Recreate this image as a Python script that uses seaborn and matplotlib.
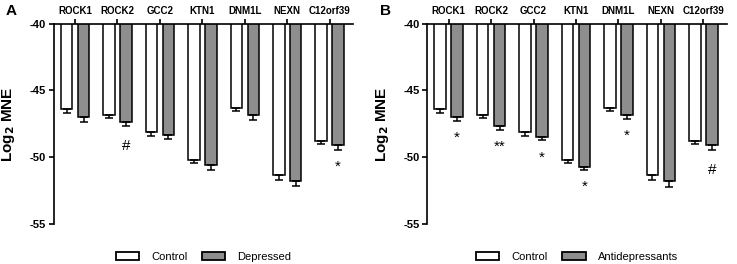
import numpy as np
import pandas as pd
import matplotlib
matplotlib.use("Agg")
import matplotlib.pyplot as plt
from matplotlib.patches import Patch
import seaborn as sns

genes = ["ROCK1", "ROCK2", "GCC2", "KTN1", "DNM1L", "NEXN", "C12orf39"]

# panel A
control_a = [-46.4, -46.85, -48.15, -50.2, -46.3, -51.35, -48.8]
control_a_err = [0.3, 0.2, 0.25, 0.25, 0.25, 0.35, 0.25]
depressed = [-47.0, -47.4, -48.35, -50.6, -46.85, -51.75, -49.1]
depressed_err = [0.4, 0.3, 0.3, 0.35, 0.35, 0.4, 0.35]
marks_a = ["", "#", "", "", "", "", "*"]

# panel B
control_b = [-46.4, -46.85, -48.15, -50.2, -46.3, -51.35, -48.8]
control_b_err = [0.3, 0.2, 0.25, 0.25, 0.25, 0.35, 0.25]
antidep = [-47.0, -47.65, -48.5, -50.7, -46.85, -51.8, -49.1]
antidep_err = [0.3, 0.3, 0.25, 0.25, 0.3, 0.4, 0.35]
marks_b = ["*", "**", "*", "*", "*", "", "#"]

sns.set_style("ticks")
plt.rcParams["font.family"] = ["Liberation Sans", "DejaVu Sans"]
plt.rcParams["mathtext.default"] = "regular"
plt.rcParams["axes.unicode_minus"] = False
for k in ["text.color", "axes.labelcolor", "xtick.color", "ytick.color", "axes.edgecolor"]:
    plt.rcParams[k] = "black"

GRAY = "#8e8e8e"


def panel(ax, ctrl, ctrl_err, trt, trt_err, trt_name, marks, letter):
    df = pd.DataFrame({
        "gene": genes * 2,
        "value": ctrl + trt,
        "group": ["Control"] * len(genes) + [trt_name] * len(genes),
    })
    sns.barplot(data=df, x="gene", y="value", hue="group", ax=ax,
                palette=["white", GRAY], edgecolor="black", linewidth=1.1,
                width=0.8, gap=0.32, errorbar=None, legend=False)
    for cont, errs in zip(ax.containers, [ctrl_err, trt_err]):
        xs = [p.get_x() + p.get_width() / 2 for p in cont.patches]
        ys = [p.get_height() for p in cont.patches]
        ax.errorbar(xs, ys, yerr=[errs, [0] * len(errs)], fmt="none",
                    ecolor="black", elinewidth=1.1, capsize=2.8, capthick=1.1)
    xs = [p.get_x() + p.get_width() / 2 for p in ax.containers[1].patches]
    for x, v, e, m in zip(xs, trt, trt_err, marks):
        if m:
            off = 0.95 if m == "#" else 0.75
            ax.text(x, v - e - off, m, ha="center", va="top", fontsize=11)

    ax.set_ylim(-55, -40)
    ax.set_xlim(-0.5, 6.55)
    ax.set_yticks([-55, -50, -45, -40])
    ax.xaxis.tick_top()
    ax.xaxis.set_label_position("top")
    ax.set_xlabel("")
    ax.set_ylabel(r"Log$_\mathbf{2}$ MNE", fontsize=11, fontweight="bold", labelpad=9)
    for s in ["bottom", "right"]:
        ax.spines[s].set_visible(False)
    for s in ["top", "left"]:
        ax.spines[s].set_linewidth(1.2)
    ax.tick_params(axis="both", width=1.2, length=3.5, pad=2)
    ax.tick_params(axis="x", labelsize=7)
    ax.tick_params(axis="y", labelsize=8)
    for t in ax.get_xticklabels() + ax.get_yticklabels():
        t.set_fontweight("bold")

    handles = [Patch(facecolor="white", edgecolor="black", linewidth=1.3),
               Patch(facecolor=GRAY, edgecolor="black", linewidth=1.3)]
    ax.legend(handles, ["Control", trt_name], loc="center",
              bbox_to_anchor=(0.5, -0.165), ncol=2, frameon=False,
              fontsize=8, handlelength=2.1, handleheight=0.6,
              columnspacing=1.3, handletextpad=1.1)
    ax.figure.text(ax.get_position().x0 - 0.065, 0.985, letter,
                   fontsize=11, fontweight="bold", va="top")


fig = plt.figure(figsize=(7.37, 2.64), dpi=100)
ax1 = fig.add_axes([0.073, 0.152, 0.406, 0.758])
ax2 = fig.add_axes([0.580, 0.152, 0.406, 0.758])

panel(ax1, control_a, control_a_err, depressed, depressed_err, "Depressed", marks_a, "A")
panel(ax2, control_b, control_b_err, antidep, antidep_err, "Antidepressants", marks_b, "B")

fig.savefig("out.png", dpi=100)
